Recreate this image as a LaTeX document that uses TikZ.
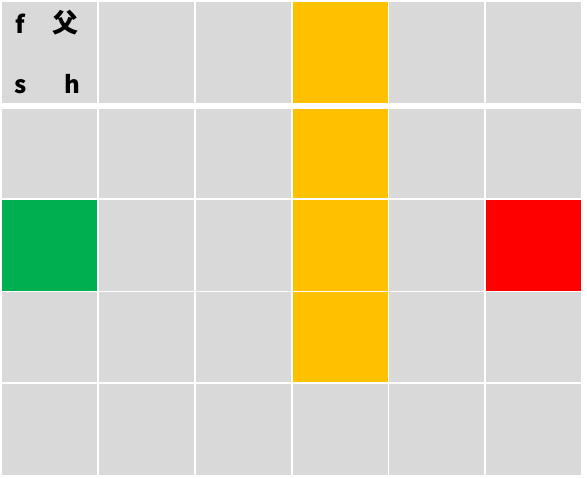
\documentclass[tikz,border=0pt]{standalone}
\usepackage{fontspec}
\newfontfamily\cjk{Noto Sans CJK SC}
\definecolor{cgray}{HTML}{D9D9D9}
\definecolor{corange}{HTML}{FFC000}
\definecolor{cgreen}{HTML}{00B050}
\definecolor{cred}{HTML}{FF0000}
\def\pickfill#1#2{\ifcsname cfill#1#2\endcsname\csname cfill#1#2\endcsname\else cgray\fi}
\expandafter\def\csname cfill41\endcsname{corange}
\expandafter\def\csname cfill42\endcsname{corange}
\expandafter\def\csname cfill43\endcsname{corange}
\expandafter\def\csname cfill44\endcsname{corange}
\expandafter\def\csname cfill13\endcsname{cgreen}
\expandafter\def\csname cfill63\endcsname{cred}
\tikzset{
  cell/.style={draw=none, inner sep=0pt, outer sep=0pt, anchor=north west},
  lbl/.style={inner sep=0pt, anchor=base, font=\cjk\bfseries\fontsize{24}{24}\selectfont, text=black}
}
\begin{document}
\begin{tikzpicture}[x=1pt,y=-1pt]
\useasboundingbox (0,0) rectangle (587,479);
\fill[white] (0,0) rectangle (587,479);
\foreach \c/\xa/\xb in {1/2/97, 2/99/194, 3/196/291, 4/293/387.5, 5/389/484, 6/486/581}{
  \foreach \r/\ya/\yb in {1/2/102.5, 2/109/197.5, 3/199.5/290.5, 4/292/382, 5/384/475}{
    \edef\fc{\pickfill{\c}{\r}}
    \node[cell, fill=\fc, minimum width={(\xb-\xa)*1pt}, minimum height={(\yb-\ya)*1pt}] (c\c\r) at (\xa,\ya) {};
  }
}
\node[lbl] (tf) at (20.5,33) {f};
\node[lbl, font=\cjk\bfseries\fontsize{26}{26}\selectfont] (tfu) at (65,32) {父};
\node[lbl] (ts) at (21,93) {s};
\node[lbl] (th) at (72.5,93) {h};
\end{tikzpicture}
\end{document}
